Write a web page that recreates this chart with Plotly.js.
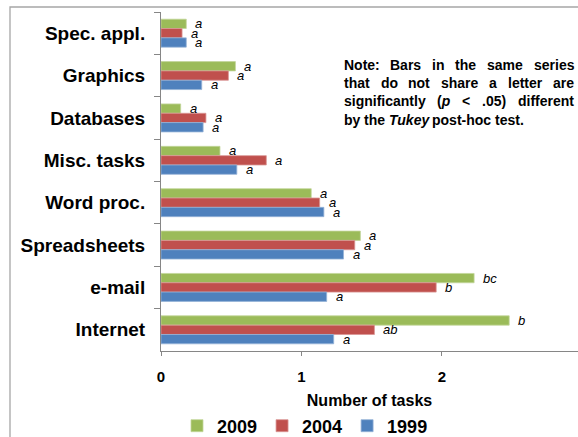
<!DOCTYPE html>
<html>
<head>
<meta charset="utf-8">
<script src="https://cdn.plot.ly/plotly-3.0.1.min.js"></script>
<style>html,body{margin:0;padding:0;background:#fff;}#chart{width:578px;height:437px;}</style>
</head>
<body>
<div id="chart"></div>
<script>
const categories = ['Spec. appl.', 'Graphics', 'Databases', 'Misc. tasks', 'Word proc.', 'Spreadsheets', 'e-mail', 'Internet'];
const seriesNames = ['2009', '2004', '1999'];
const v2009 = [0.18, 0.53, 0.14, 0.42, 1.07, 1.42, 2.23, 2.48];
const v2004 = [0.15, 0.48, 0.32, 0.75, 1.13, 1.38, 1.96, 1.52];
const v1999 = [0.18, 0.29, 0.30, 0.54, 1.16, 1.30, 1.18, 1.23];
const l2009 = ['a', 'a', 'a', 'a', 'a', 'a', 'bc', 'b'];
const l2004 = ['a', 'a', 'a', 'a', 'a', 'a', 'b', 'ab'];
const l1999 = ['a', 'a', 'a', 'a', 'a', 'a', 'a', 'a'];
const xTickVals = [0, 1, 2];
const noteLines = [
  ['Note:', 'Bars', 'in', 'the', 'same', 'series'],
  ['that', 'do', 'not', 'share', 'a', 'letter', 'are'],
  ['significantly', '(<i>p</i>', '<', '.05)', 'different'],
  ['by', 'the', '<i>Tukey</i>', 'post-hoc', 'test.']
];

const colors = ['#9BBB59', '#C0504D', '#4F81BD'];
const edges = ['#C3D69B', '#D99694', '#95B3D7'];
const values = [v2009, v2004, v1999];
const letters = [l2009, l2004, l1999];
const FONT = 'Liberation Sans, Arial, sans-serif';
const bargap = 0.34;
const barW = (1 - bargap) / 3;

// plot area geometry (pixels)
const W = 578, H = 437, ML = 161, MR = 0, MT = 12, MB = 86;
const PW = W - ML - MR, PH = H - MT - MB;
const pxToPaperX = px => (px - ML) / PW;
const pxToPaperY = py => (H - MB - py) / PH;

const traces = values.map((vals, k) => ({
  type: 'bar',
  orientation: 'h',
  name: seriesNames[k],
  x: vals,
  y: categories,
  marker: {color: colors[k], line: {color: edges[k], width: 0.8}},
  hoverinfo: 'x+name'
}));

const annotations = [];
values.forEach((vals, k) => {
  vals.forEach((v, i) => {
    annotations.push({
      x: v, y: i + (k - 1) * barW, xref: 'x', yref: 'y',
      text: letters[k][i], showarrow: false,
      xanchor: 'left', yanchor: 'middle', xshift: 7,
      font: {family: FONT, size: 13, style: 'italic', color: '#000'}
    });
  });
});

// justified note text
const NOTE_SIZE = 14;
const ctx = document.createElement('canvas').getContext('2d');
ctx.font = 'bold ' + NOTE_SIZE + 'px "Liberation Sans", Arial, sans-serif';
const measure = s => ctx.measureText(s.replace(/<[^>]+>/g, '')).width;
const noteLeft = 343, noteRight = 573, noteTop = 65, noteStep = 18.2;
const spaceW = measure(' ');
noteLines.forEach((words, li) => {
  const widths = words.map(measure);
  const total = widths.reduce((a, b) => a + b, 0);
  const last = li === noteLines.length - 1;
  const gap = last ? spaceW : (noteRight - noteLeft - total) / (words.length - 1);
  let px = noteLeft;
  words.forEach((w, wi) => {
    annotations.push({
      xref: 'paper', yref: 'paper', x: pxToPaperX(px - 1), y: pxToPaperY(noteTop + li * noteStep),
      xanchor: 'left', yanchor: 'middle', showarrow: false, text: w,
      font: {family: FONT, size: NOTE_SIZE, weight: 'bold', color: '#000'}
    });
    px += widths[wi] + gap;
  });
});

const layout = {
  width: W, height: H,
  margin: {l: ML, r: MR, t: MT, b: MB, autoexpand: false},
  paper_bgcolor: '#fff', plot_bgcolor: '#fff',
  barmode: 'group', bargap: bargap, bargroupgap: 0,
  font: {family: FONT, color: '#000'},
  showlegend: true,
  legend: {
    orientation: 'h', x: pxToPaperX(305), xanchor: 'center', y: pxToPaperY(426), yanchor: 'middle',
    font: {family: FONT, size: 18, weight: 'bold', color: '#000'},
    traceorder: 'normal', itemclick: false
  },
  xaxis: {
    range: [0, 2.97], tickvals: xTickVals, ticktext: xTickVals.map(String),
    showgrid: false, zeroline: false, automargin: false,
    showline: true, linecolor: '#868686', linewidth: 1,
    ticks: 'outside', ticklen: 4, tickcolor: '#868686',
    tickfont: {family: FONT, size: 15, weight: 'bold', color: '#000'},
    ticklabelstandoff: 8,
    title: {text: 'Number of tasks', font: {family: FONT, size: 16, weight: 'bold', color: '#000'}, standoff: 10},
    fixedrange: true
  },
  yaxis: {
    type: 'category', range: [7.5, -0.5], autorange: false, automargin: false,
    showgrid: false, zeroline: false,
    showline: true, linecolor: '#868686', linewidth: 1,
    ticks: 'outside', ticklen: 6, tickcolor: '#868686', tickson: 'boundaries',
    tickfont: {family: FONT, size: 19, weight: 'bold', color: '#000'},
    ticklabelstandoff: 11,
    fixedrange: true
  },
  annotations: annotations,
  shapes: [{
    type: 'rect', xref: 'paper', yref: 'paper',
    x0: pxToPaperX(10), x1: pxToPaperX(600), y0: pxToPaperY(460), y1: pxToPaperY(7),
    line: {color: '#A6A6A6', width: 1.3}, fillcolor: 'rgba(0,0,0,0)', layer: 'below'
  }]
};

Plotly.newPlot('chart', traces, layout, {displayModeBar: false, staticPlot: true});
</script>
</body>
</html>
